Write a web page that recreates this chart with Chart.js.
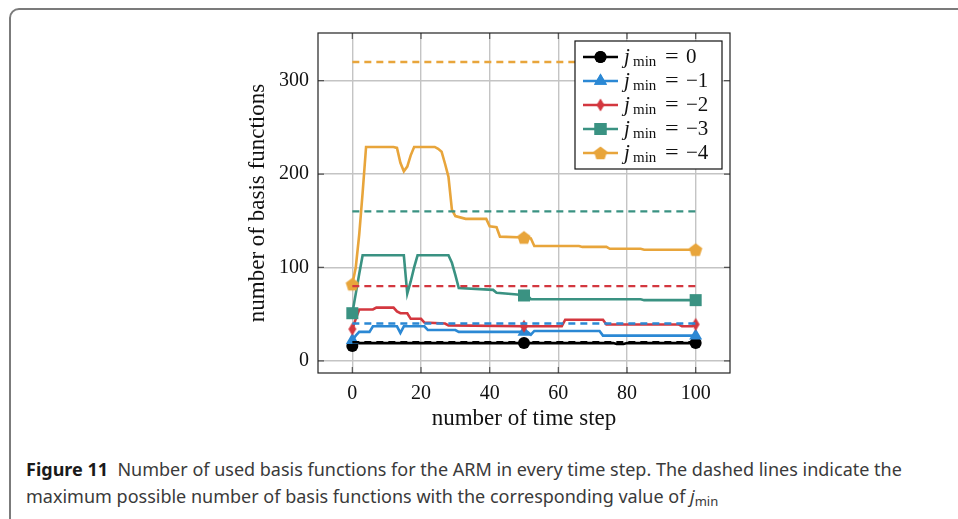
<!DOCTYPE html>
<html>
<head>
<meta charset="utf-8">
<script src="https://cdn.jsdelivr.net/npm/chart.js@4.4.0/dist/chart.umd.min.js"></script>
<style>
  html, body { margin: 0; padding: 0; background: #fff; }
  body { width: 958px; height: 519px; overflow: hidden; position: relative; }
  .frame { position: absolute; left: 9px; top: 8px; width: 1000px; height: 600px;
    border: 2px solid #7b7b7b; border-radius: 10px; box-sizing: border-box; }
  #wrap { position: absolute; left: 0; top: 0; width: 958px; height: 440px; }
  .caption { position: absolute; left: 26px; top: 456px; font-family: 'Noto Sans', sans-serif;
    font-size: 18px; color: #3a3a3a; line-height: 26.5px; white-space: nowrap; }
  .caption b { color: #1a1a1a; }
  .caption sub { font-size: 13px; vertical-align: -3px; }
</style>
</head>
<body>
<div class="frame"></div>
<div id="wrap"><canvas id="chart" width="958" height="440"></canvas></div>
<div class="caption">
  <div><b>Figure 11</b>&nbsp; Number of used basis functions for the ARM in every time step. The dashed lines indicate the</div>
  <div>maximum possible number of basis functions with the corresponding value of <i>j</i><sub>min</sub></div>
</div>
<script>
// axis ticks
const timeTicks = [0, 20, 40, 60, 80, 100];
const basisTicks = [0, 100, 200, 300];

// series: j_min = 0, -1, -2, -3, -4
const jminLabels = ['0', '\u22121', '\u22122', '\u22123', '\u22124'];
const seriesColors = ['#000000', '#2b88d4', '#d3373f', '#3a9282', '#e8a53b'];
const maxBasis = [20, 40, 80, 160, 320];
const markerSteps = [0, 50, 100];

const stepsJ0 = [0, 1, 50, 76, 77, 79, 80, 100];
const countJ0 = [16, 19, 19, 19, 18, 18, 19, 19];

const stepsJ1 = [0, 1, 2, 5, 6, 13, 14, 15, 21, 22, 30, 31, 50, 51, 52, 53, 72, 73, 100];
const countJ1 = [22, 27, 31, 31, 37, 37, 30, 37, 37, 33, 33, 31, 31, 31, 28, 32, 32, 27, 27];

const stepsJ2 = [0, 1, 2, 6, 7, 12, 13, 14, 16, 17, 20, 21, 27, 28, 50, 61, 62, 73, 74, 95, 96, 99, 100];
const countJ2 = [34, 45, 55, 55, 57, 57, 53, 51, 51, 45, 45, 41, 40, 38, 37, 37, 44, 44, 39, 39, 37, 37, 39];

const stepsJ3 = [0, 1, 2, 3, 15, 16, 17, 18, 19, 28, 29, 30, 31, 41, 42, 48, 50, 51, 52, 84, 85, 100];
const countJ3 = [51, 72, 93, 113, 113, 72, 85, 100, 113, 113, 105, 92, 78, 76, 73, 71, 70, 70, 66, 66, 65, 65];

const stepsJ4 = [0, 1, 2, 3, 4, 12, 13, 14, 15, 16, 17, 18, 24, 25, 26, 27, 28, 29, 30, 33, 39, 40, 42, 43, 50, 52, 53, 66, 67, 74, 75, 84, 85, 100];
const countJ4 = [82, 100, 135, 180, 229, 229, 228, 212, 203, 208, 220, 229, 229, 227, 224, 211, 197, 162, 155, 152, 152, 144, 143, 133, 132, 131, 123, 123, 122, 122, 120, 120, 119, 119];

const allSteps = [stepsJ0, stepsJ1, stepsJ2, stepsJ3, stepsJ4];
const allCounts = [countJ0, countJ1, countJ2, countJ3, countJ4];

// custom marker shapes
function makeMarker(kind, color) {
  const c = document.createElement('canvas');
  c.width = 16; c.height = 16;
  const g = c.getContext('2d');
  g.fillStyle = color;
  g.beginPath();
  if (kind === 'diamond') {
    g.moveTo(8, 1.5); g.lineTo(12, 8); g.lineTo(8, 14.5); g.lineTo(4, 8);
  } else {
    for (let i = 0; i < 5; i++) {
      const a = -Math.PI / 2 + i * 2 * Math.PI / 5;
      g.lineTo(8 + 7 * Math.cos(a), 8.6 + 7 * Math.sin(a));
    }
  }
  g.closePath();
  g.fill();
  return c;
}

const markerStyles = ['circle', 'triangle', makeMarker('diamond', seriesColors[2]), 'rect', makeMarker('pentagon', seriesColors[4])];
const markerSizes = [6, 7.5, 6, 8.5, 6];

const datasets = [];
allSteps.forEach((steps, i) => {
  datasets.push({
    label: 'jmin = ' + jminLabels[i],
    data: steps.map((s, k) => ({ x: s, y: allCounts[i][k] })),
    borderColor: seriesColors[i],
    backgroundColor: seriesColors[i],
    borderWidth: 2.6,
    pointStyle: markerStyles[i],
    pointRadius: ctx => markerSteps.includes(ctx.raw && ctx.raw.x) ? markerSizes[i] : 0,
    pointBorderWidth: 0,
    tension: 0,
    order: 20 - i
  });
});
maxBasis.forEach((v, i) => {
  datasets.push({
    label: 'max ' + jminLabels[i],
    data: [{ x: 0, y: v }, { x: 100, y: v }],
    borderColor: seriesColors[i],
    borderWidth: 2.4,
    borderDash: [7, 5],
    pointRadius: 0,
    order: 10 - i
  });
});

const serif = "'Liberation Serif', 'DejaVu Serif', serif";

// inward tick marks and box around plot
const axisBox = {
  id: 'axisBox',
  beforeDatasetsDraw(chart) {
    const { ctx, chartArea: a, scales } = chart;
    ctx.save();
    ctx.strokeStyle = '#555';
    ctx.lineWidth = 1.2;
    ctx.beginPath();
    timeTicks.forEach(t => {
      const px = scales.x.getPixelForValue(t);
      ctx.moveTo(px, a.bottom); ctx.lineTo(px, a.bottom - 6);
      ctx.moveTo(px, a.top); ctx.lineTo(px, a.top + 6);
    });
    basisTicks.forEach(t => {
      const py = scales.y.getPixelForValue(t);
      ctx.moveTo(a.left, py); ctx.lineTo(a.left + 6, py);
      ctx.moveTo(a.right, py); ctx.lineTo(a.right - 6, py);
    });
    ctx.stroke();
    ctx.restore();
  },
  afterDatasetsDraw(chart) {
    const { ctx, chartArea: a } = chart;
    ctx.save();
    ctx.strokeStyle = '#222';
    ctx.lineWidth = 1.2;
    ctx.strokeRect(a.left, a.top, a.right - a.left, a.bottom - a.top);
    ctx.restore();
  }
};

// legend with line + marker samples
const lineLegend = {
  id: 'lineLegend',
  afterDraw(chart) {
    const ctx = chart.ctx;
    const box = { x: 575, y: 41, w: 147, h: 128 };
    ctx.save();
    ctx.fillStyle = '#fff';
    ctx.fillRect(box.x, box.y, box.w, box.h);
    ctx.strokeStyle = '#111';
    ctx.lineWidth = 1.2;
    ctx.strokeRect(box.x, box.y, box.w, box.h);
    jminLabels.forEach((lab, i) => {
      const cy = 57 + 24 * i;
      ctx.strokeStyle = seriesColors[i];
      ctx.lineWidth = 2.6;
      ctx.beginPath();
      ctx.moveTo(583, cy); ctx.lineTo(618, cy);
      ctx.stroke();
      const opts = { pointStyle: markerStyles[i], radius: markerSizes[i], borderWidth: 0, rotation: 0 };
      ctx.fillStyle = seriesColors[i];
      ctx.beginPath();
      Chart.helpers.drawPoint(ctx, opts, 600.5, cy);
      if (typeof markerStyles[i] === 'string') ctx.fill();
      ctx.fillStyle = '#111';
      ctx.textBaseline = 'alphabetic';
      ctx.font = 'italic 21px ' + serif;
      ctx.fillText('j', 624, cy + 6);
      ctx.font = '15px ' + serif;
      ctx.fillText('min', 633, cy + 9);
      ctx.font = '21px ' + serif;
      ctx.save();
      ctx.translate(665, cy + 6);
      ctx.scale(1.15, 1);
      ctx.fillText('=', 0, 0);
      ctx.restore();
      ctx.fillText(lab, 686, cy + 6);
    });
    ctx.restore();
  }
};

new Chart(document.getElementById('chart'), {
  type: 'line',
  data: { datasets: datasets },
  options: {
    responsive: false,
    animation: false,
    events: [],
    layout: { padding: { left: 240, right: 228, top: 33, bottom: 0 } },
    plugins: { legend: { display: false }, tooltip: { enabled: false } },
    scales: {
      x: {
        type: 'linear',
        min: -10,
        max: 110,
        afterFit: s => { s.height = 67; },
        afterBuildTicks: s => { s.ticks = timeTicks.map(v => ({ value: v })); },
        grid: { color: '#c4c4c4', lineWidth: 1.4, drawTicks: false },
        border: { display: false },
        ticks: { color: '#111', padding: 9, font: { family: serif, size: 20 }, maxRotation: 0 },
        title: { display: true, text: 'number of time step', color: '#111',
          font: { family: serif, size: 23 }, padding: { top: 0, bottom: 7 } }
      },
      y: {
        type: 'linear',
        min: -13,
        max: 351,
        afterFit: s => { s.width = 78; },
        afterBuildTicks: s => { s.ticks = basisTicks.map(v => ({ value: v })); },
        grid: { color: '#c4c4c4', lineWidth: 1.4, drawTicks: false },
        border: { display: false },
        ticks: { color: '#111', padding: 9, font: { family: serif, size: 20 } },
        title: { display: true, text: 'number of basis functions', color: '#111',
          font: { family: serif, size: 23 }, padding: { top: 4, bottom: 0 } }
      }
    }
  },
  plugins: [axisBox, lineLegend]
});
</script>
</body>
</html>
